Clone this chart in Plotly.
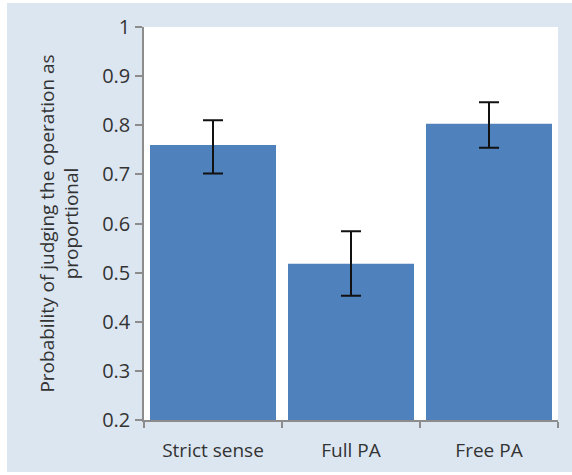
import plotly.graph_objects as go

categories = ["Strict sense", "Full PA", "Free PA"]
values = [0.760, 0.518, 0.803]
err_plus = [0.050, 0.066, 0.044]
err_minus = [0.058, 0.065, 0.049]
y_ticks = [0.2, 0.3, 0.4, 0.5, 0.6, 0.7, 0.8, 0.9, 1]
y_tick_labels = ["0.2", "0.3", "0.4", "0.5", "0.6", "0.7", "0.8", "0.9", "1"]

W, H = 572, 475
ML, MR, MT, MB = 144, 14, 27, 55
PANEL = "#dce6f1"
FONT = "Open Sans"
TXT = "#333333"
AX = "#8c8c8c"

fig = go.Figure(go.Bar(
    x=categories, y=values,
    marker=dict(color="#4f81bd", line=dict(width=0)),
    error_y=dict(type="data", symmetric=False, array=err_plus, arrayminus=err_minus,
                 color="#111111", thickness=2, width=10),
))

pw = W - ML - MR
ph = H - MT - MB
def px_x(p):
    return (p - ML) / pw
def px_y(p):
    return 1 - (p - MT) / ph

# white outer border strips (left, top, bottom)
fig.add_shape(type="rect", xref="paper", yref="paper",
              x0=px_x(0), x1=px_x(7), y0=px_y(H), y1=px_y(0),
              fillcolor="white", line=dict(width=0), layer="below")
fig.add_shape(type="rect", xref="paper", yref="paper",
              x0=px_x(0), x1=px_x(W), y0=px_y(3), y1=px_y(0),
              fillcolor="white", line=dict(width=0), layer="below")
fig.add_shape(type="rect", xref="paper", yref="paper",
              x0=px_x(0), x1=px_x(W), y0=px_y(H), y1=px_y(472),
              fillcolor="white", line=dict(width=0), layer="below")

fig.update_layout(
    width=W, height=H,
    margin=dict(l=ML, r=MR, t=MT, b=MB, pad=0),
    paper_bgcolor=PANEL,
    plot_bgcolor="white",
    bargap=0.087,
    showlegend=False,
    font=dict(family=FONT, size=19, color=TXT),
    xaxis=dict(
        showline=True, linecolor=AX, linewidth=1.5,
        ticks="outside", ticklen=6, tickcolor=AX, tickwidth=1.5,
        tickson="boundaries", showgrid=False,
        tickfont=dict(family=FONT, size=19, color=TXT),
        ticklabelstandoff=12,
        fixedrange=True,
    ),
    yaxis=dict(
        range=[0.2, 1.0],
        tickvals=y_ticks, ticktext=y_tick_labels,
        showline=True, linecolor=AX, linewidth=1.5,
        ticks="outside", ticklen=7, tickcolor=AX, tickwidth=1.5,
        showgrid=False, zeroline=False,
        tickfont=dict(family=FONT, size=20, color=TXT),
        ticklabelstandoff=1,
        title=dict(text="Probability of judging the operation as<br>proportional",
                   font=dict(family=FONT, size=19, color=TXT), standoff=18),
    ),
)

fig.write_html("out.html")
